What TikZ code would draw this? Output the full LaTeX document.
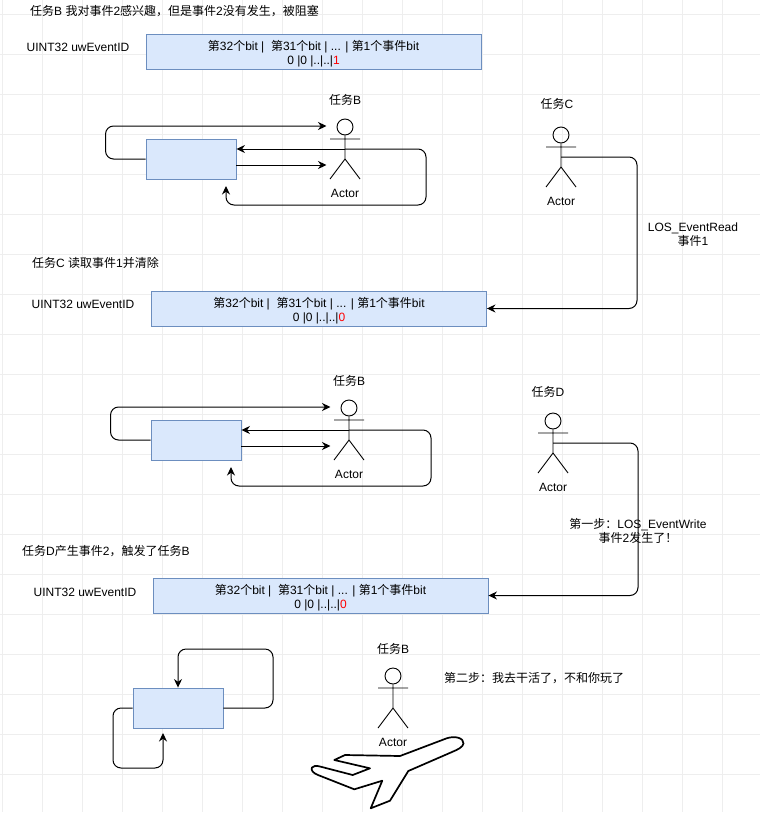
\documentclass[tikz,border=0pt]{standalone}
\usepackage{fontspec}
\setmainfont{Liberation Sans}
\newfontfamily\cjk{Noto Sans CJK SC}
\newcommand{\zh}[1]{{\cjk #1}}
\usetikzlibrary{arrows.meta}
\definecolor{boxfill}{HTML}{DAE8FC}
\definecolor{boxline}{HTML}{6C8EBF}
\definecolor{gridgray}{HTML}{EEEEEE}
\tikzset{
	every node/.style={font=\fontsize{12}{14}\selectfont},
	plain/.style={inner sep=0pt, align=center},
	wordbox/.style={draw=boxline, fill=boxfill, line width=0.9pt, minimum width=335pt, minimum height=35pt, inner sep=0pt, align=center},
	taskbox/.style={draw=boxline, fill=boxfill, line width=0.9pt, minimum width=90pt, minimum height=40pt, inner sep=0pt},
	link/.style={draw, line width=1pt, rounded corners=8pt, -{Stealth[length=8.5pt,width=8pt]}},
	pics/actor/.style={code={
		\node[circle, draw, line width=0.9pt, minimum size=16pt, inner sep=0pt] (-head) at (0,0) {};
		\coordinate (-mid) at (0,22);
		\coordinate (-out1) at (-18.5,-1);
		\coordinate (-out2) at (-18.5,38);
		\draw[line width=0.9pt] (-head) -- (0,32) (-15,12) -- (15,12) (-15,52) -- (0,32) -- (15,52);
		\node[plain] (-name) at (0,66) {Actor};
	}},
}
\newcommand{\wordtext}[1]{\rule{0pt}{14pt}\zh{第}32\zh{个}bit |\ \ \zh{第}31\zh{个}bit | ... | \zh{第}1\zh{个事件}bit\\0 |0 |..|..|\textcolor{red}{#1}}

\begin{document}
\begin{tikzpicture}[x=1pt, y=-1pt]
	\useasboundingbox (0,0) rectangle (760,817);
	\fill[white] (0,0) rectangle (760,817);
	\foreach \x in {2,42,...,722} \draw[gridgray, line width=0.8pt] (\x,0) -- (\x,812);
	\foreach \y in {14,54,...,774} \draw[gridgray, line width=0.8pt] (0,\y) -- (760,\y);

	% first block
	\node[plain, anchor=west] (titleb) at (30,11) {\zh{任务}B \zh{我对事件}2\zh{感兴趣，但是事件}2\zh{没有发生，被阻塞}};
	\node[plain] (idb) at (78,47) {UINT32 uwEventID};
	\node[wordbox] (wordb) at (313.5,51.5) {\wordtext{1}};
	\node[plain] (nameb) at (345,100) {\zh{任务}B};
	\pic (tb) at (345,127) {actor};
	\node[taskbox] (boxb) at (191,159) {};
	\coordinate (bturn) at (426,205);
	\coordinate (bback) at (226,186);
	\draw[link] (boxb.west) -- ++(-40,0) |- (tb-out1);
	\draw[link] (boxb.east |- tb-out2) -- (tb-out2);
	\draw[link] (tb-mid) -- (boxb.east |- tb-mid);
	\draw[link] (tb-mid) -| (bturn) -| (bback);

	\node[plain] (namec) at (557,104) {\zh{任务}C};
	\pic (tc) at (561,135) {actor};
	\node[plain] (readc) at (693,235) {LOS\_EventRead\\\zh{事件}1};

	% second block
	\node[plain, anchor=west] (titlec) at (32,263) {\zh{任务}C \zh{读取事件}1\zh{并清除}};
	\node[plain] (idc) at (83,304) {UINT32 uwEventID};
	\node[wordbox] (wordc) at (319,308.5) {\wordtext{0}};
	\coordinate (cturn) at (637,157);
	\draw[link] (tc-mid) -- (cturn) |- (wordc.east);

	\node[plain] (nameb2) at (349,381) {\zh{任务}B};
	\pic (tb2) at (349,408) {actor};
	\node[taskbox] (boxb2) at (196,440) {};
	\coordinate (b2turn) at (431,486);
	\coordinate (b2back) at (231,467);
	\draw[link] (boxb2.west) -- ++(-40,0) |- (tb2-out1);
	\draw[link] (boxb2.east |- tb2-out2) -- (tb2-out2);
	\draw[link] (tb2-mid) -- (boxb2.east |- tb2-mid);
	\draw[link] (tb2-mid) -| (b2turn) -| (b2back);

	\node[plain] (named) at (548,392) {\zh{任务}D};
	\pic (td) at (553,421) {actor};

	% third block
	\node[plain, anchor=west] (titled) at (22,551) {\zh{任务}D\zh{产生事件}2\zh{，触发了任务}B};
	\node[plain] (idd) at (85,592) {UINT32 uwEventID};
	\node[wordbox] (wordd) at (320.5,595.5) {\wordtext{0}};
	\coordinate (dturn) at (638,443);
	\draw[link] (td-mid) -- (dturn) |- (wordd.east);
	\node[plain] (writed) at (638,531) {\zh{第一步：}LOS\_EventWrite\\\zh{事件}2\zh{发生了！}};

	% last block
	\node[taskbox] (boxe) at (178,708) {};
	\coordinate (etop) at (273,649);
	\coordinate (elow) at (113,768);
	\coordinate (eback) at (163,733);
	\draw[link] (boxe.east) -| (etop) -| (boxe.north);
	\draw[link] (boxe.west) -| (elow) -| (eback);

	\node[plain] (namee) at (393,649) {\zh{任务}B};
	\pic (te) at (393,676) {actor};
	\node[plain, anchor=west] (stepe) at (444,678) {\zh{第二步：我去干活了，不和你玩了}};

	% plane
	\draw[line width=1.7pt, fill=white, line join=round] (400,756) -- (446.7,738.3)
		.. controls (455,735.5) and (464,738) .. (463.5,743.5)
		.. controls (463,747) and (458,749.5) .. (452,752) -- (408.3,771)
		-- (390,800.7) -- (370.7,808.3) -- (382.3,780.7) -- (354.3,789.3) -- (318,775)
		.. controls (313,773) and (310.5,770) .. (312,767.5)
		.. controls (313.5,765.5) and (316,765.5) .. (320,766.5)
		-- (352.7,775) -- (370,768.3) -- (334.3,760) -- (345,755) -- cycle;
\end{tikzpicture}
\end{document}
